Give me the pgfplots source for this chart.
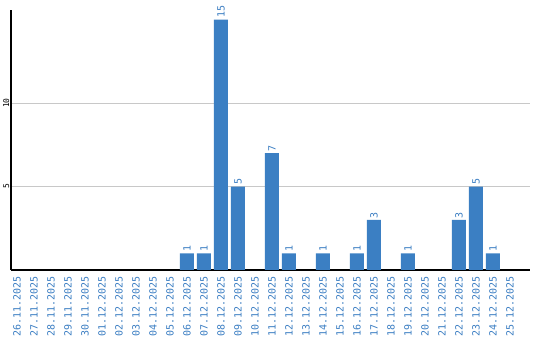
\documentclass[border=0pt]{standalone}
\usepackage{pgfplots}
\pgfplotsset{compat=1.18}
\usepackage{fontspec}
\setmainfont{DejaVu Sans}
\newfontfamily\monofont{DejaVu Sans Mono}
\definecolor{barblue}{RGB}{59,127,195}
\definecolor{lblblue}{RGB}{58,125,194}
\definecolor{gridgray}{RGB}{200,200,200}
\begin{document}
\begin{tikzpicture}
\path[use as bounding box] (0,0) rectangle (540bp,340bp);
\begin{axis}[
  at={(11bp,70bp)}, anchor=south west,
  scale only axis, width=519bp, height=260bp,
  xmin=-0.35, xmax=30.18, ymin=0, ymax=15.57,
  /pgf/number format/assume math mode=true,
  axis x line*=bottom, axis y line*=left,
  axis line style={black, line width=1.5bp, -},
  ybar, bar width=14bp, bar shift=0pt,
  ytick={5,10}, yticklabels={5,10},
  ymajorgrids, grid style={gridgray, line width=1bp},
  major tick length=0pt,
  yticklabel style={rotate=90, font=\monofont\fontsize{8}{9}\selectfont, anchor=south, inner sep=1.5bp},
  xtick={0,...,29},
  xticklabels={26.11.2025,27.11.2025,28.11.2025,29.11.2025,30.11.2025,01.12.2025,02.12.2025,03.12.2025,04.12.2025,05.12.2025,06.12.2025,07.12.2025,08.12.2025,09.12.2025,10.12.2025,11.12.2025,12.12.2025,13.12.2025,14.12.2025,15.12.2025,16.12.2025,17.12.2025,18.12.2025,19.12.2025,20.12.2025,21.12.2025,22.12.2025,23.12.2025,24.12.2025,25.12.2025},
  xticklabel style={rotate=90, anchor=east, font=\monofont\fontsize{10}{11}\selectfont, text=lblblue, inner sep=0pt, xshift=-6bp},
  nodes near coords,
  nodes near coords style={rotate=90, anchor=west, font=\monofont\fontsize{10}{11}\selectfont, text=lblblue, inner sep=1.5bp},
]
\addplot[fill=barblue, draw=none] coordinates {
 (10,1) (11,1) (12,15) (13,5) (15,7) (16,1) (18,1) (20,1) (21,3) (23,1) (26,3) (27,5) (28,1)
};
\end{axis}
\end{tikzpicture}
\end{document}
